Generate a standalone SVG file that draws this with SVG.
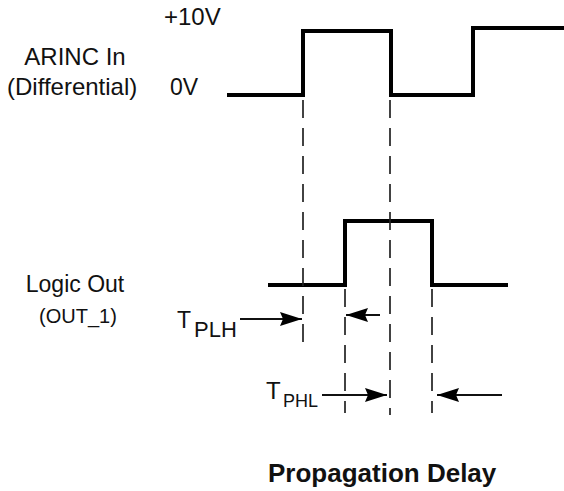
<svg xmlns="http://www.w3.org/2000/svg" width="564" height="491" viewBox="0 0 564 491">
<style>
.t{font-family:"Liberation Sans",Arial,sans-serif;fill:#111}
.wave{fill:none;stroke:#000;stroke-width:4;stroke-linejoin:miter}
.dash{fill:none;stroke:#222;stroke-width:1.7;stroke-dasharray:18 10}
.arr{fill:none;stroke:#111;stroke-width:1.8}
</style>
<defs>
<marker id="ah" markerUnits="userSpaceOnUse" viewBox="0 0 22 14" refX="22" refY="7" markerWidth="22" markerHeight="14" orient="auto">
<path d="M0,0 L22,7 L0,14 L3,7 z" fill="#000"/>
</marker>
</defs>
<rect width="564" height="491" fill="#fff"/>
<g id="arinc-in">
<text class="t" x="164" y="25" font-size="24">+10V</text>
<text class="t" x="75" y="65" font-size="24" text-anchor="middle">ARINC In</text>
<text class="t" x="7" y="95" font-size="24">(Differential)</text>
<text class="t" x="170" y="95" font-size="23">0V</text>
<polyline class="wave" points="227,95 303,95 303,31 391,31 391,95 473,95 473,28 564,28"/>
</g>
<g id="logic-out">
<text class="t" x="75" y="292" font-size="23" text-anchor="middle">Logic Out</text>
<text class="t" x="78" y="323" font-size="20" text-anchor="middle">(OUT_1)</text>
<polyline class="wave" points="268,285 345,285 345,221 432,221 432,285 508,285"/>
</g>
<g id="tplh">
<text class="t" x="177" y="328" font-size="23">T</text>
<text class="t" x="194" y="337" font-size="22">PLH</text>
</g>
<g id="tphl">
<text class="t" x="266" y="399" font-size="24">T</text>
<text class="t" x="283" y="407" font-size="18">PHL</text>
</g>
<g id="title">
<text class="t" x="268" y="482" font-size="26" font-weight="bold">Propagation Delay</text>
</g>
<g id="connectors">
<line class="dash" x1="303" y1="100" x2="303" y2="342"/>
<line class="dash" x1="390" y1="100" x2="390" y2="415"/>
<line class="dash" x1="345" y1="289" x2="345" y2="413"/>
<line class="dash" x1="432" y1="289" x2="432" y2="413"/>
<line class="arr" x1="240" y1="319" x2="302" y2="319" marker-end="url(#ah)"/>
<line class="arr" x1="380" y1="315" x2="346" y2="315" marker-end="url(#ah)"/>
<line class="arr" x1="322" y1="395" x2="387" y2="395" marker-end="url(#ah)"/>
<line class="arr" x1="502" y1="395" x2="437" y2="395" marker-end="url(#ah)"/>
</g>
</svg>
